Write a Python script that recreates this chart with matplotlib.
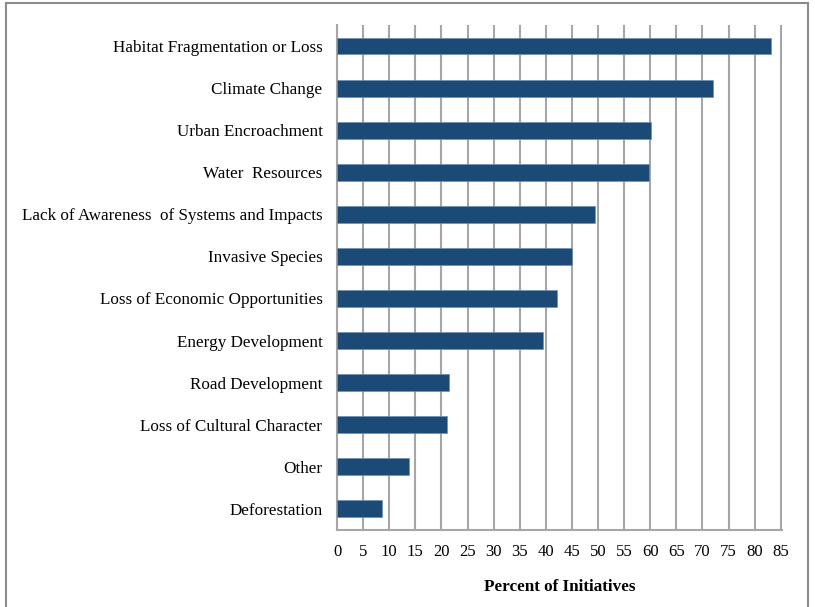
import matplotlib.pyplot as plt
from matplotlib.lines import Line2D

categories = [
    "Habitat Fragmentation or Loss",
    "Climate Change",
    "Urban Encroachment",
    "Water  Resources",
    "Lack of Awareness  of Systems and Impacts",
    "Invasive Species",
    "Loss of Economic Opportunities",
    "Energy Development",
    "Road Development",
    "Loss of Cultural Character",
    "Other",
    "Deforestation",
]
percents = [83.2, 72.0, 60.1, 59.7, 49.4, 45.1, 42.2, 39.5, 21.5, 21.1, 13.7, 8.7]
ticks = list(range(0, 90, 5))

plt.rcParams['font.family'] = ['Liberation Serif', 'DejaVu Serif']

fig = plt.figure(figsize=(8.15, 6.07), dpi=100)
ax = fig.add_axes([0.4135, 0.127, 0.5455, 0.8318])

y = list(range(len(categories)))
ax.barh(y, percents, height=0.4, color='#1c4a77', edgecolor='#6f8fb0',
        linewidth=0.5, zorder=3)

ax.set_ylim(len(categories) - 0.5, -0.5)
ax.set_xlim(0, 85.15)
ax.set_xticks(ticks)
ax.set_xticklabels([str(t) for t in ticks], fontsize=12)
ax.set_yticks(y)
ax.set_yticklabels(categories, fontsize=12.3)
ax.tick_params(axis='x', length=0, pad=10)
ax.tick_params(axis='y', length=0, pad=10.5)

ax.xaxis.grid(True, color='#a6a6a6', linewidth=1.5, zorder=0)
ax.set_axisbelow(True)

for side in ['top', 'right']:
    ax.spines[side].set_visible(False)
for side in ['left', 'bottom']:
    ax.spines[side].set_color('#a6a6a6')
    ax.spines[side].set_linewidth(1.5)

ax.set_xlabel('Percent of Initiatives', fontsize=12.3, fontweight='bold', labelpad=14)

# outer frame
fig.add_artist(Line2D([0.007, 0.007], [0.0, 0.995], color='#8c8c8c', lw=1.5,
                      transform=fig.transFigure))
fig.add_artist(Line2D([0.007, 0.991], [0.995, 0.995], color='#8c8c8c', lw=1.5,
                      transform=fig.transFigure))
fig.add_artist(Line2D([0.991, 0.991], [0.0, 0.995], color='#8c8c8c', lw=1.5,
                      transform=fig.transFigure))

fig.savefig('out.png', dpi=100)
